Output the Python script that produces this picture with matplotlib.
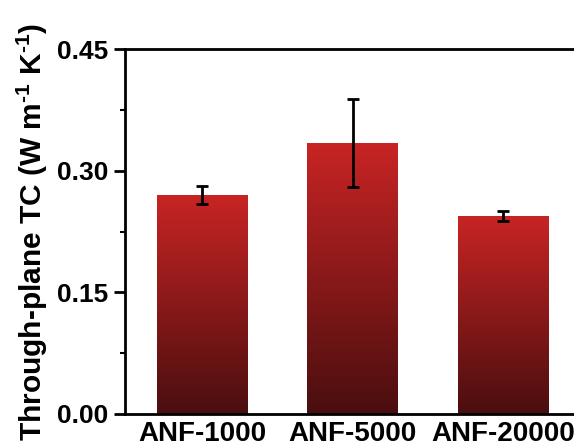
import matplotlib.pyplot as plt
import numpy as np
from matplotlib.colors import LinearSegmentedColormap
from matplotlib.ticker import MultipleLocator

plt.rcParams['font.family'] = ['Liberation Sans', 'DejaVu Sans']
plt.rcParams['font.weight'] = 'bold'
plt.rcParams['mathtext.fontset'] = 'custom'
plt.rcParams['mathtext.rm'] = 'Liberation Sans:bold'
plt.rcParams['mathtext.default'] = 'rm'

# data
samples = ['ANF-1000', 'ANF-5000', 'ANF-20000']
tc_values = [0.270, 0.334, 0.244]
tc_errors = [0.011, 0.054, 0.006]

cmap = LinearSegmentedColormap.from_list('bar_grad', ['#4A0E0F', '#C82424'])

fig = plt.figure(figsize=(5.74, 4.48), dpi=100)
ax = fig.add_axes([0.218, 0.0759, 0.79, 0.8147])

x = np.arange(len(samples))
bars = ax.bar(x, tc_values, width=0.6, color='none', edgecolor='none', zorder=2)

# vertical gradient inside each bar (dark at bottom, red at top)
grad = np.linspace(0, 1, 256).reshape(-1, 1)
for bar in bars:
    bx, by = bar.get_x(), bar.get_y()
    bw, bh = bar.get_width(), bar.get_height()
    im = ax.imshow(grad, extent=[bx, bx + bw, by, by + bh], origin='lower',
                   aspect='auto', cmap=cmap, zorder=2)
    im.set_clip_path(bar)

ax.errorbar(x, tc_values, yerr=tc_errors, fmt='none', ecolor='black',
            elinewidth=2, capsize=4.5, capthick=2, zorder=3)

ax.set_xlim(-0.51, 2.5)
ax.set_ylim(0, 0.45)
ax.set_xticks(x)
ax.set_xticklabels(samples, fontsize=20, fontweight='bold')
ax.yaxis.set_major_locator(MultipleLocator(0.15))
ax.yaxis.set_minor_locator(MultipleLocator(0.075))
ax.yaxis.set_major_formatter(plt.FormatStrFormatter('%.2f'))
ax.tick_params(axis='y', which='major', labelsize=19, length=8, width=2,
               direction='out', pad=4)
ax.tick_params(axis='y', which='minor', length=3.5, width=1.5, direction='out')
ax.tick_params(axis='x', length=0, pad=5)
for lab in ax.get_yticklabels():
    lab.set_fontweight('bold')

for sp in ax.spines.values():
    sp.set_linewidth(2)

ax.set_ylabel(r'Through-plane TC (W m$^{\text{-1}}$ K$^{\text{-1}}$)', fontsize=21.5,
              fontweight='bold', labelpad=5)

fig.savefig('out.png', dpi=100)
